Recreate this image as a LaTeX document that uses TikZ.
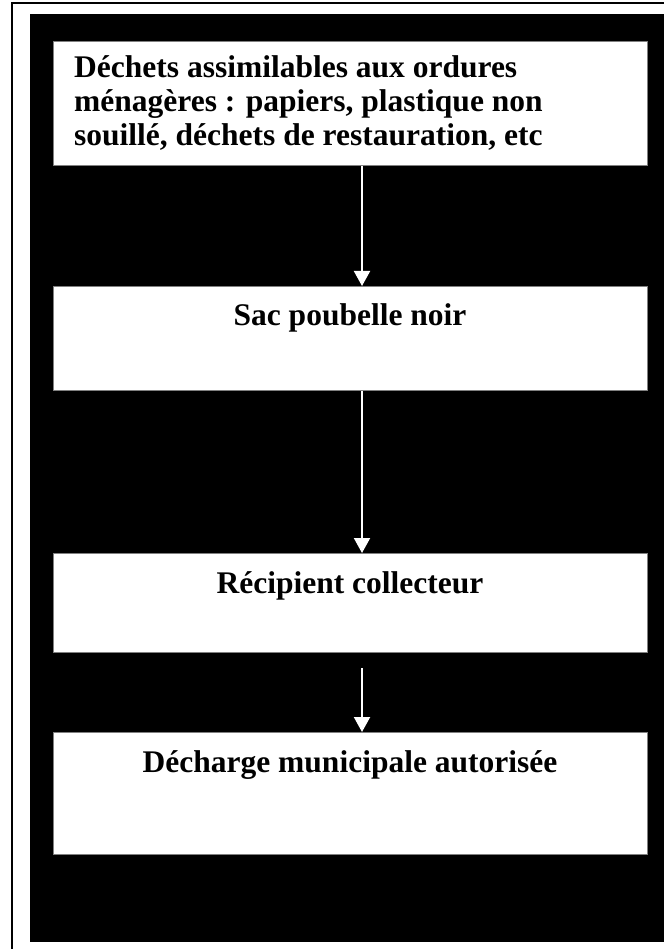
\documentclass[tikz,border=0pt]{standalone}
\usepackage{fontspec}
\setmainfont{Liberation Serif}
\usetikzlibrary{arrows.meta}
\begin{document}
\begin{tikzpicture}[x=1pt,y=-1pt,
  flowbox/.style={draw=black!50, line width=0.8pt, fill=white, inner sep=0pt, anchor=north west, minimum width=594pt},
  boxtext/.style={inner sep=0pt, font=\fontsize{31.5}{34}\selectfont\bfseries},
  flowarrow/.style={draw=white, line width=2pt, -{Triangle[width=16pt,length=15pt,fill=white]}},
  frameline/.style={draw=black, line width=1.6pt}]
\fill[white] (0,0) rectangle (664,949);
\useasboundingbox (0,0) rectangle (664,949);
\fill[black] (30,14) rectangle (664,942);
\draw[frameline] (12,949) -- (12,3) -- (664,3);

\node[flowbox, minimum height=124pt] (b1) at (53,41) {};
\node[flowbox, minimum height=104pt] (b2) at (53,286) {};
\node[flowbox, minimum height=99pt] (b3) at (53,553) {};
\node[flowbox, minimum height=122pt] (b4) at (53,732) {};

\node[boxtext, anchor=north west, align=left] (t1) at (74,55) {Déchets assimilables aux ordures\\ménagères : papiers, plastique non\\souillé, déchets de restauration, etc};
\node[boxtext, anchor=base] (t2) at (350,325) {Sac poubelle noir};
\node[boxtext, anchor=base] (t3) at (350,593) {Récipient collecteur};
\node[boxtext, anchor=base] (t4) at (350,772) {Décharge municipale autorisée};

\coordinate (ax) at (362,0);
\coordinate (a3start) at (362,668);
\draw[flowarrow] (b1.south -| ax) -- (b2.north -| ax);
\draw[flowarrow] (b2.south -| ax) -- (b3.north -| ax);
\draw[flowarrow] (a3start) -- (b4.north -| ax);
\end{tikzpicture}
\end{document}
